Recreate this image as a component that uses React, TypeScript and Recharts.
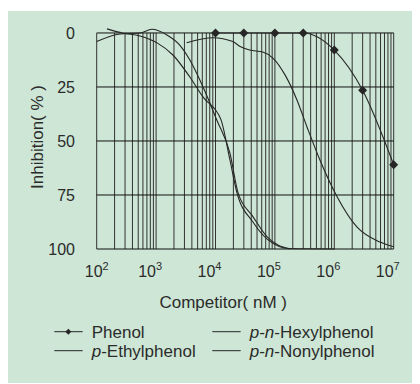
import React from 'react';
import { LineChart, Line, XAxis, YAxis, ReferenceLine, Legend, Label } from 'recharts';

// concentrations in nM, inhibition in %
const xTicks = [1e2, 1e3, 1e4, 1e5, 1e6, 1e7];
const yTicks = [0, 25, 50, 75, 100];

const phenolConc = [1e4, 3e4, 1e5, 3e5, 1e6, 3e6, 1e7];
const phenolInh = [0, 0, 0, 0, 7.9, 26.5, 61];

const ethylConc = [3270, 9100, 19600, 26000, 37800, 62500, 92500, 148000, 235000, 347000, 573000, 1.12e6, 2.4e6, 5.9e6, 1e7];
const ethylInh = [4.5, 2.2, 4.0, 6.3, 7.9, 8.8, 11.6, 19.4, 31, 43.5, 58.8, 75.9, 89.8, 96.8, 99];

const hexylConc = [149, 277, 535, 1040, 1920, 3700, 6150, 12300, 17500, 23000, 42700, 74000, 178000, 1.02e6];
const hexylInh = [-1.9, 0.1, 1.4, 4.6, 10.2, 20.4, 29.6, 40, 58.8, 74, 87.5, 95.4, 99.8, 100];

const nonylConc = [100, 247, 535, 850, 1520, 2500, 3700, 6150, 10500, 17500, 24000, 42700, 74000, 178000];
const nonylInh = [4.0, 0.5, 0, -1.7, 0.9, 5.6, 12.5, 24.9, 40.3, 55.6, 74, 85, 94.4, 100];

const legendItems = [
  { key: 'phenol', prefix: [] as string[], name: 'Phenol', marker: true },
  { key: 'hexyl', prefix: ['p', 'n'], name: 'Hexylphenol', marker: false },
  { key: 'ethyl', prefix: ['p'], name: 'Ethylphenol', marker: false },
  { key: 'nonyl', prefix: ['p', 'n'], name: 'Nonylphenol', marker: false },
];

const toPoints = (xs: number[], ys: number[]) => xs.map((x, i) => ({ x, y: ys[i] }));

const series = [
  { key: 'phenol', data: toPoints(phenolConc, phenolInh) },
  { key: 'ethyl', data: toPoints(ethylConc, ethylInh) },
  { key: 'hexyl', data: toPoints(hexylConc, hexylInh) },
  { key: 'nonyl', data: toPoints(nonylConc, nonylInh) },
];

// log grid: 1..9 x each decade
const logGrid: number[] = [];
for (let d = 2; d < 7; d++) for (let k = 1; k < 10; k++) logGrid.push(k * 10 ** d);
logGrid.push(1e7);

const bg = '#cde6d5';
const ink = '#262626';
const textColor = '#2b2b2b';
const font = '"Liberation Sans", Arial, sans-serif';

const Diamond = (props: any) => {
  const { cx, cy, index } = props;
  if (cx == null || cy == null) return null;
  const s = 4.5;
  return (
    <path
      key={`dm-${index}`}
      d={`M${cx},${cy - s}L${cx + s},${cy}L${cx},${cy + s}L${cx - s},${cy}Z`}
      fill={ink}
    />
  );
};

const XTick = ({ x, y, payload }: any) => {
  const exp = Math.round(Math.log10(payload.value));
  const dx = exp === 2 ? 0 : -6;
  return (
    <text x={x + dx} y={y + 28} textAnchor="middle" fontSize={16} fill={textColor} fontFamily={font}>
      10<tspan fontSize={11} dy={-7}>{exp}</tspan>
    </text>
  );
};

const renderLegend = () => {
  const cols = [46.3, 204.3];
  const rows = [15.7, 34.7];
  return (
    <svg width={412} height={50}>
      {legendItems.map((item, i) => {
        const x = cols[i % 2];
        const y = rows[Math.floor(i / 2)];
        return (
          <g key={item.key}>
            <line x1={x} x2={x + 28.4} y1={y} y2={y} stroke={ink} strokeWidth={1} />
            {item.marker && (
              <path d={`M${x + 14},${y - 3}L${x + 17},${y}L${x + 14},${y + 3}L${x + 11},${y}Z`} fill={ink} />
            )}
            <text x={x + 37.4} y={y + 6.6} fontSize={17} fill={textColor} fontFamily={font}>
              {item.prefix.map((p) => (
                <React.Fragment key={p}>
                  <tspan fontStyle="italic">{p}</tspan>-
                </React.Fragment>
              ))}
              {item.name}
            </text>
          </g>
        );
      })}
    </svg>
  );
};

export default function App() {
  return (
    <div style={{ marginTop: 3, width: 412, height: 372, background: bg, fontFamily: font }}>
      <LineChart width={412} height={372} margin={{ top: 9, right: 26.3, left: 0, bottom: 74 }}>
        <XAxis
          type="number"
          dataKey="x"
          scale="log"
          domain={[100, 1e7]}
          ticks={xTicks}
          interval={0}
          tick={<XTick />}
          tickLine={false}
          axisLine={false}
          tickSize={0}
          tickMargin={0}
          height={60}
        >
          <Label
            content={(p: any) => {
              const vb = p.viewBox;
              return (
                <text x={vb.x + vb.width / 2 - 22} y={vb.y + 59.3} textAnchor="middle" fontSize={17} fill={textColor} fontFamily={font}>
                  Competitor( nM )
                </text>
              );
            }}
          />
        </XAxis>
        <YAxis
          type="number"
          dataKey="y"
          domain={[-6, 100]}
          reversed
          ticks={yTicks}
          interval={0}
          width={88.7}
          tickLine={false}
          axisLine={false}
          tickSize={0}
          tickMargin={21.7}
          tick={{ fontSize: 16, fill: textColor, fontFamily: font }}
        >
          <Label
            content={(p: any) => {
              const vb = p.viewBox;
              const x = vb.x + 35.3;
              const y = vb.y + vb.height / 2 + 2.5;
              return (
                <text x={x} y={y} transform={`rotate(-90 ${x} ${y})`} textAnchor="middle" fontSize={17} fill={textColor} fontFamily={font}>
                  Inhibition( % )
                </text>
              );
            }}
          />
        </YAxis>
        {logGrid.map((v) => (
          <ReferenceLine
            key={`vx-${v}`}
            segment={[{ x: v, y: 0 }, { x: v, y: 100 }]}
            stroke="#333"
            strokeWidth={1}
            ifOverflow="visible"
          />
        ))}
        {yTicks.map((v) => (
          <ReferenceLine key={`hy-${v}`} y={v} stroke="#111" strokeWidth={1} ifOverflow="visible" />
        ))}
        {series.map((s) => (
          <Line
            key={s.key}
            data={s.data}
            dataKey="y"
            type="monotone"
            stroke={ink}
            strokeWidth={1.1}
            dot={s.key === 'phenol' ? Diamond : false}
            activeDot={false}
            isAnimationActive={false}
          />
        ))}
        <Legend
          layout="horizontal"
          verticalAlign="middle"
          align="center"
          content={renderLegend}
          wrapperStyle={{ position: 'absolute', left: 0, top: 305, width: 412, height: 50 }}
        />
      </LineChart>
    </div>
  );
}
